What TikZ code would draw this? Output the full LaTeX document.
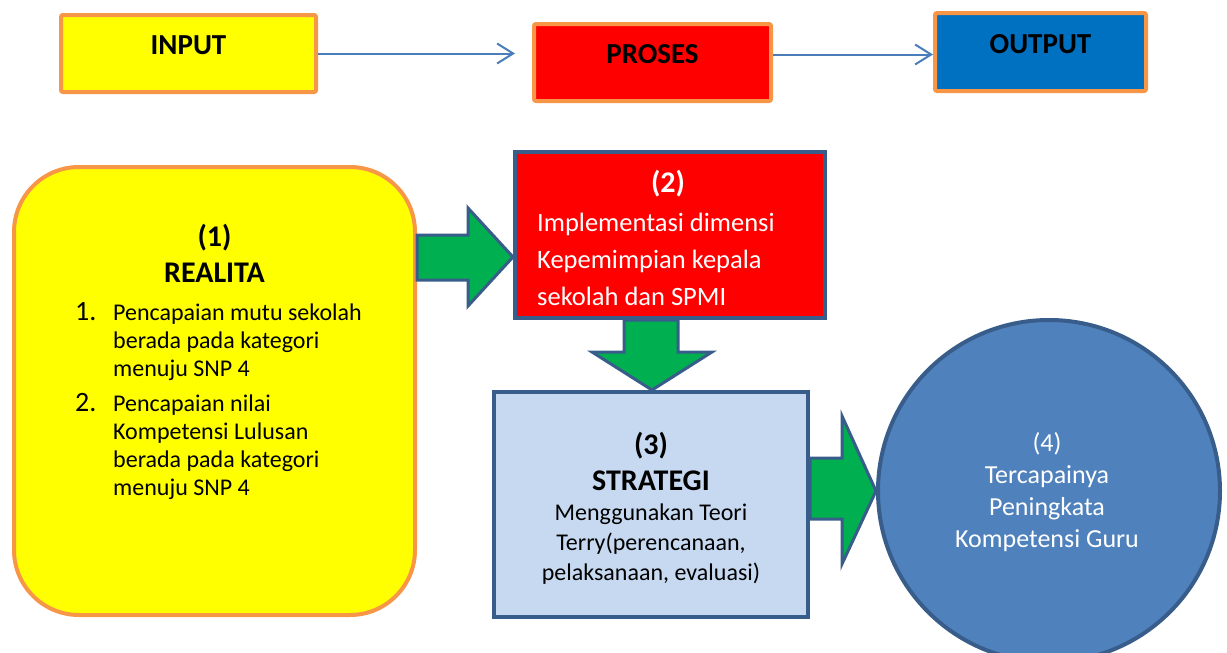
\documentclass[tikz,border=0pt]{standalone}
\usepackage{fontspec}
\setmainfont{Carlito}
\usetikzlibrary{arrows.meta}

\definecolor{boxorange}{HTML}{F79646}
\definecolor{boxyellow}{HTML}{FFFF00}
\definecolor{boxred}{HTML}{FF0000}
\definecolor{boxblue}{HTML}{0070C0}
\definecolor{edgeblue}{HTML}{385D8A}
\definecolor{lineblue}{HTML}{4A7EBB}
\definecolor{arrowgreen}{HTML}{00B050}
\definecolor{stratfill}{HTML}{C6D9F1}
\definecolor{goalfill}{HTML}{4F81BD}

\begin{document}
\begin{tikzpicture}[x=1pt, y=-1pt,
    topbox/.style={rectangle, draw=boxorange, line width=4pt, rounded corners=2pt, minimum height=77pt, text height=20pt, text depth=18pt, font=\fontsize{29}{34}\selectfont\bfseries},
    flow/.style={draw=lineblue, line width=2pt, -{Straight Barb[length=16pt, width=20pt]}},
    bigbox/.style={rectangle, draw=edgeblue, line width=4pt},
    blockarrow/.style={draw=edgeblue, fill=arrowgreen, line width=3pt, line join=miter},
    headtext/.style={inner sep=0pt, align=center, font=\fontsize{30}{36}\selectfont\bfseries},
    bodytext/.style={inner sep=0pt}]

\useasboundingbox (0,0) rectangle (1227,653);

% Nodes
\node [topbox, fill=boxyellow, minimum width=255pt] (input) at (188.5,53.5) {INPUT};
\node [topbox, fill=boxred, minimum width=237pt] (proses) at (652.5,62.5) {PROSES};
\node [topbox, fill=boxblue, minimum width=211pt, minimum height=78pt] (output) at (1040.5,52) {OUTPUT};

\node [rectangle, draw=boxorange, fill=boxyellow, line width=4pt, rounded corners=65pt, minimum width=401pt, minimum height=448pt] (real) at (214.5,391) {};
\node [bigbox, fill=boxred, minimum width=310pt, minimum height=166pt] (impl) at (670,235) {};
\node [bigbox, fill=stratfill, minimum width=314pt, minimum height=225pt] (strat) at (651,504.5) {};
\node [circle, draw=edgeblue, fill=goalfill, line width=4pt, minimum size=342pt] (goal) at (1049,491) {};

% Texts
\node [headtext, anchor=north] (realhead) at (214.5,224) {(1)\\REALITA};
\node [bodytext, anchor=north west, align=left, font=\fontsize{24}{28}\selectfont] (reallist) at (75,302) {%
  \makebox[38pt][l]{\fontsize{28}{28}\selectfont 1.}Pencapaian mutu sekolah\\
  \hspace*{38pt}berada pada kategori\\
  \hspace*{38pt}menuju SNP 4\\[7pt]
  \makebox[38pt][l]{\fontsize{28}{28}\selectfont 2.}Pencapaian nilai\\
  \hspace*{38pt}Kompetensi Lulusan\\
  \hspace*{38pt}berada pada kategori\\
  \hspace*{38pt}menuju SNP 4};
\node [headtext, anchor=north, text=white] (implhead) at (668,170) {(2)};
\node [bodytext, anchor=north west, align=left, text=white, font=\fontsize{26.5}{37}\selectfont] (impltext) at (537,213) {Implementasi dimensi\\Kepemimpian kepala\\sekolah dan SPMI};
\node [headtext, anchor=north] (strathead) at (651,432) {(3)\\STRATEGI};
\node [bodytext, anchor=north, align=center, font=\fontsize{24}{30}\selectfont] (strattext) at (651,504) {Menggunakan Teori\\Terry(perencanaan,\\pelaksanaan, evaluasi)};
\node [bodytext, anchor=north, align=center, text=white, font=\fontsize{26}{32}\selectfont] (goaltext) at (1047,432) {(4)\\Tercapainya\\Peningkata\\Kompetensi Guru};

% Arrows
\draw[flow, shorten >=17pt] (input.east) -- (input.east -| proses.west);
\draw[flow] ([yshift=8pt]proses.east) -- ([yshift=8pt]proses.east -| output.west);

\draw[blockarrow] (real.east |- 0,235) -- (468,235) -- (468,208) -- (impl.west |- 0,257) -- (468,306) -- (468,280) -- (real.east |- 0,280) -- cycle;
\draw[blockarrow] (impl.south -| 624,0) -- (624,352) -- (592,352) -- (strat.north -| 652,0) -- (712,352) -- (678,352) -- (impl.south -| 678,0) -- cycle;
\draw[blockarrow] (strat.east |- 0,458) -- (842,458) -- (842,416) -- (goal.west) -- (842,564) -- (842,519) -- (strat.east |- 0,519) -- cycle;

\end{tikzpicture}
\end{document}
